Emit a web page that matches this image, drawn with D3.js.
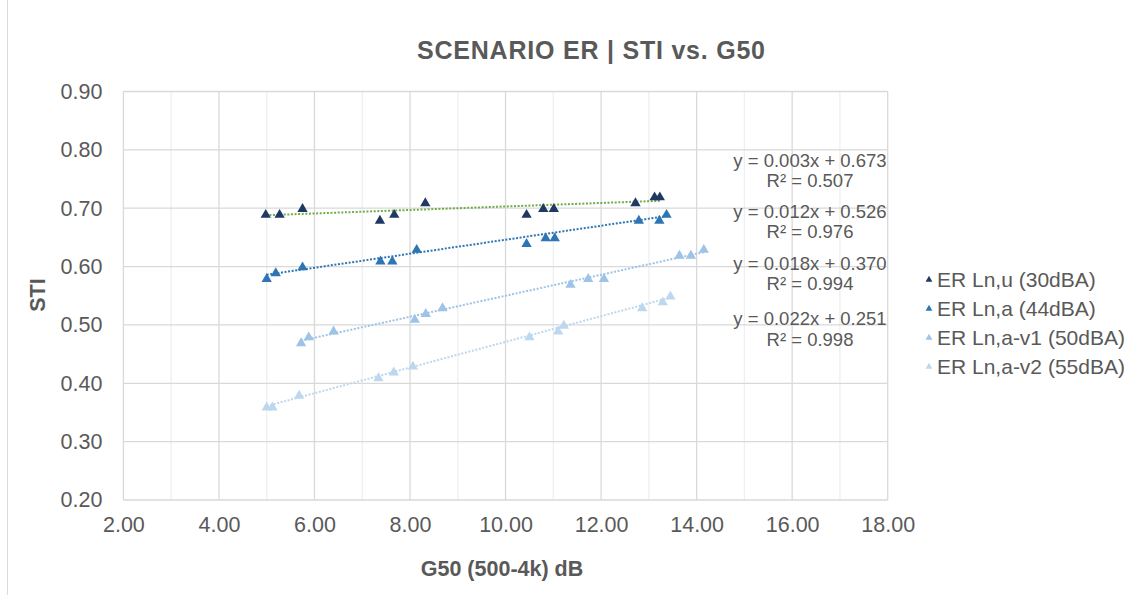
<!DOCTYPE html>
<html>
<head>
<meta charset="utf-8">
<script src="https://cdn.jsdelivr.net/npm/d3@7"></script>
<style>
  html, body { margin: 0; padding: 0; background: #ffffff; }
  svg { display: block; font-family: "Liberation Sans", Arial, Helvetica, sans-serif; }
</style>
</head>
<body>
<svg id="chart" width="1138" height="595"></svg>
<script>
// ---------------- DATA ----------------
const chartTitle = "SCENARIO ER | STI vs. G50";
const xAxisTitle = "G50 (500-4k) dB";
const yAxisTitle = "STI";
const seriesNames = ["ER Ln,u (30dBA)", "ER Ln,a (44dBA)", "ER Ln,a-v1 (50dBA)", "ER Ln,a-v2 (55dBA)"];

const g50_u  = [4.98, 5.27, 5.75, 7.37, 7.67, 8.32, 10.44, 10.79, 11.01, 12.72, 13.12, 13.23];
const sti_u  = [0.69, 0.69, 0.70, 0.68, 0.69, 0.71, 0.69, 0.70, 0.70, 0.71, 0.72, 0.72];

const g50_a  = [5.00, 5.19, 5.75, 7.38, 7.63, 8.14, 10.44, 10.84, 11.03, 12.79, 13.22, 13.37];
const sti_a  = [0.58, 0.59, 0.60, 0.61, 0.61, 0.63, 0.64, 0.65, 0.65, 0.68, 0.68, 0.69];

const g50_v1 = [5.72, 5.88, 6.40, 8.10, 8.33, 8.68, 11.36, 11.73, 12.06, 13.64, 13.88, 14.15];
const sti_v1 = [0.47, 0.48, 0.49, 0.51, 0.52, 0.53, 0.57, 0.58, 0.58, 0.62, 0.62, 0.63];

const g50_v2 = [5.00, 5.12, 5.68, 7.34, 7.66, 8.06, 10.50, 11.10, 11.22, 12.86, 13.29, 13.45];
const sti_v2 = [0.36, 0.36, 0.38, 0.41, 0.42, 0.43, 0.48, 0.49, 0.50, 0.53, 0.54, 0.55];

// linear trendlines (as displayed)
const trendSlopes     = [0.003, 0.012, 0.018, 0.022];
const trendIntercepts = [0.673, 0.526, 0.370, 0.251];
const trendR2         = [0.507, 0.976, 0.994, 0.998];

const xTicks = [2, 4, 6, 8, 10, 12, 14, 16, 18];
const yTicks = [0.20, 0.30, 0.40, 0.50, 0.60, 0.70, 0.80, 0.90];

// ---------------- STYLE ----------------
const markerColors = ["#203864", "#2E75B6", "#9DC3E6", "#BDD7EE"];
const trendColors  = ["#70AD47", "#2E75B6", "#9DC3E6", "#BDD7EE"];
const textColor = "#595959";
const gridMajor = "#d9d9d9";
const gridMinor = "#efefef";

const plot = { left: 123.4, right: 887.7, top: 91.5, bottom: 500 };

const svg = d3.select("#chart");
svg.append("rect").attr("width", 1138).attr("height", 595).attr("fill", "#fff");
// chart area left border
svg.append("line").attr("x1", 7.5).attr("x2", 7.5).attr("y1", 0).attr("y2", 595)
  .attr("stroke", "#d9d9d9").attr("stroke-width", 1);

const x = d3.scaleLinear().domain([2, 18]).range([plot.left, plot.right]);
const y = d3.scaleLinear().domain([0.2, 0.9]).range([plot.bottom, plot.top]);

// grid
const grid = svg.append("g");
d3.range(2, 18.5, 1).forEach(v => {
  grid.append("line")
    .attr("x1", x(v)).attr("x2", x(v)).attr("y1", plot.top).attr("y2", plot.bottom)
    .attr("stroke", (v % 2 === 0) ? gridMajor : gridMinor).attr("stroke-width", 1.3);
});
yTicks.forEach(v => {
  grid.append("line")
    .attr("x1", plot.left).attr("x2", plot.right).attr("y1", y(v)).attr("y2", y(v))
    .attr("stroke", gridMajor).attr("stroke-width", 1.3);
});

// axes (labels only)
const yAxis = d3.axisLeft(y).tickValues(yTicks).tickFormat(d3.format(".2f")).tickSize(0).tickPadding(21);
const gy = svg.append("g").attr("transform", `translate(${plot.left},0)`).call(yAxis);
gy.select(".domain").remove();
gy.selectAll("text").attr("fill", textColor).style("font-size", "21.5px")
  .style("font-family", "'Liberation Sans', Arial, sans-serif");

const xAxis = d3.axisBottom(x).tickValues(xTicks).tickFormat(d3.format(".2f")).tickSize(0).tickPadding(17);
const gx = svg.append("g").attr("transform", `translate(0,${plot.bottom})`).call(xAxis);
gx.select(".domain").remove();
gx.selectAll("text").attr("fill", textColor).style("font-size", "21.5px")
  .style("font-family", "'Liberation Sans', Arial, sans-serif");

// title
svg.append("text").attr("x", 591).attr("y", 59).attr("text-anchor", "middle")
  .attr("fill", textColor).style("font-size", "25px").style("font-weight", "bold")
  .attr("textLength", 348).attr("lengthAdjust", "spacing")
  .text(chartTitle);

// axis titles
svg.append("text").attr("x", 502).attr("y", 576).attr("text-anchor", "middle")
  .attr("fill", textColor).style("font-size", "21.5px").style("font-weight", "bold")
  .text(xAxisTitle);
svg.append("text").attr("transform", "translate(45,295) rotate(-90)").attr("text-anchor", "middle")
  .attr("fill", textColor).style("font-size", "21.5px").style("font-weight", "bold")
  .text(yAxisTitle);

// series
const seriesX = [g50_u, g50_a, g50_v1, g50_v2];
const seriesY = [sti_u, sti_a, sti_v1, sti_v2];

const tri = d3.symbol().type(d3.symbolTriangle).size(46);

// trendlines first (under markers)
seriesX.forEach((xs, i) => {
  const x0 = d3.min(xs), x1 = d3.max(xs);
  const f = v => trendSlopes[i] * v + trendIntercepts[i];
  svg.append("line")
    .attr("x1", x(x0)).attr("y1", y(f(x0)))
    .attr("x2", x(x1)).attr("y2", y(f(x1)))
    .attr("stroke", trendColors[i]).attr("stroke-width", 2)
    .attr("stroke-dasharray", "2 1.6");
});

seriesX.forEach((xs, i) => {
  svg.append("g").selectAll("path")
    .data(xs.map((v, j) => [v, seriesY[i][j]]))
    .join("path")
    .attr("d", tri)
    .attr("transform", d => `translate(${x(d[0])},${y(d[1]) + 0.8})`)
    .attr("fill", markerColors[i]);
});

// trendline equations
const eqBaselines = [166.5, 217.5, 269.5, 325];
const fmt3 = d3.format(".3f");
trendSlopes.forEach((s, i) => {
  const t = svg.append("text").attr("text-anchor", "middle").attr("fill", textColor)
    .style("font-size", "18.5px");
  t.append("tspan").attr("x", 810).attr("y", eqBaselines[i])
    .text(`y = ${fmt3(s)}x + ${fmt3(trendIntercepts[i])}`);
  t.append("tspan").attr("x", 810).attr("y", eqBaselines[i] + 20.5)
    .text(`R² = ${fmt3(trendR2[i])}`);
});

// legend
const legendBaselines = [286.7, 315.7, 344.7, 373.7];
const legSym = d3.symbol().type(d3.symbolTriangle).size(20);
seriesNames.forEach((name, i) => {
  svg.append("path").attr("d", legSym)
    .attr("transform", `translate(929,${legendBaselines[i] - 7})`)
    .attr("fill", markerColors[i]);
  svg.append("text").attr("x", 937).attr("y", legendBaselines[i])
    .attr("fill", textColor).style("font-size", "21px").text(name);
});
</script>
</body>
</html>
